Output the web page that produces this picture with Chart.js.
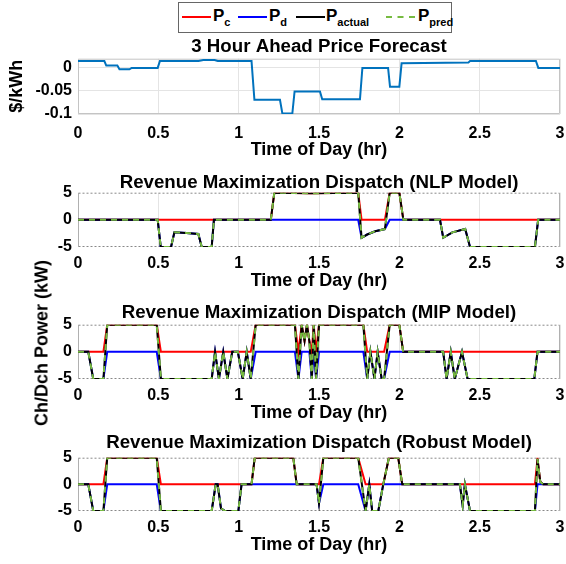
<!DOCTYPE html>
<html>
<head>
<meta charset="utf-8">
<script src="https://cdn.jsdelivr.net/npm/chart.js@4.4.1/dist/chart.umd.min.js"></script>
<style>
    body { margin: 0; background: #fff; font-family: 'Liberation Sans', Arial, sans-serif; }
    #page { position: relative; width: 566px; height: 564px; overflow: hidden; background: #fff; }
    canvas { position: absolute; left: 0; }
    #legend { position: absolute; left: 178px; top: 2px; width: 274px; height: 31px; box-sizing: border-box;
              border: 1px solid #666; background: #fff; }
    #legend .line { position: absolute; top: 13px; width: 29px; height: 0; }
    #legend .txt { position: absolute; top: 3px; font-weight: bold; font-size: 17px; line-height: 20px; white-space: nowrap; }
    #legend .txt sub { font-size: 11px; vertical-align: -5px; line-height: 0; }
    #ylab { position: absolute; left: 42px; top: 343px; transform: translate(-50%, -50%) rotate(-90deg);
            white-space: nowrap; font-weight: bold; font-size: 18px; }
</style>
</head>
<body>
<div id="page">
    <div id="legend">
        <div class="line" style="left:3px;border-top:2px solid #ff0000"></div>
        <div class="txt" style="left:34px">P<sub>c</sub></div>
        <div class="line" style="left:59px;border-top:2px solid #0000ff"></div>
        <div class="txt" style="left:90px">P<sub>d</sub></div>
        <div class="line" style="left:117px;border-top:2px solid #000"></div>
        <div class="txt" style="left:147px">P<sub>actual</sub></div>
        <div class="line" style="left:207px;border-top:2px dashed #77bb41"></div>
        <div class="txt" style="left:239px">P<sub>pred</sub></div>
    </div>
    <canvas id="price" width="566" height="123" style="top:38px"></canvas>
    <canvas id="nlp" width="566" height="118" style="top:174px"></canvas>
    <canvas id="mip" width="566" height="120" style="top:304px"></canvas>
    <canvas id="robust" width="566" height="122" style="top:434px"></canvas>
    <div id="ylab">Ch/Dch Power (kW)</div>
</div>
<script>
// Ticks
const hourTicks = [0, 0.5, 1, 1.5, 2, 2.5, 3];
const priceTicks = [-0.1, -0.05, 0];
const powerTicks = [-5, 0, 5];

// 3 hour ahead price forecast ($/kWh)
const priceTime = [0, 0.164, 0.176, 0.245, 0.258, 0.32, 0.334, 0.496, 0.51, 0.75, 0.78, 0.85, 0.87, 1.08, 1.098, 1.257,
    1.272, 1.334, 1.348, 1.506, 1.52, 1.755, 1.77, 1.93, 1.942, 2.0, 2.014, 2.43, 2.44, 2.85, 2.865, 3];
const priceValue = [0.015, 0.015, 0.005, 0.005, -0.003, -0.003, 0, 0, 0.015, 0.015, 0.017, 0.017, 0.015, 0.015, -0.069, -0.069,
    -0.099, -0.099, -0.051, -0.051, -0.068, -0.068, 0, 0, -0.041, -0.041, 0.01, 0.012, 0.015, 0.015, 0, 0];

// NLP model dispatch (kW)
const nlpTime = [0, 0.496, 0.515, 0.579, 0.6, 0.675, 0.749, 0.77, 0.832, 0.846, 1.2, 1.222, 1.45, 1.744, 1.765,
    1.8, 1.85, 1.91, 1.94, 2.0, 2.025, 2.253, 2.273, 2.33, 2.41, 2.44, 2.844, 2.864, 3];
const nlpCharge = [0, 0, 0, 0, 0, 0, 0, 0, 0, 0, 0, 5, 4.9, 5, 0,
    0, 0, 0, 5, 5, 0, 0, 0, 0, 0, 0, 0, 0, 0];
const nlpDischarge = [0, 0, -5, -5, -2.3, -2.4, -2.6, -5, -5, 0, 0, 0, 0, 0, -3.3,
    -2.7, -2.1, -1.7, 0, 0, 0, 0, -3.3, -2.3, -1.7, -5, -5, 0, 0];
const nlpActual = [0, 0, -5, -5, -2.3, -2.4, -2.6, -5, -5, 0, 0, 5, 4.9, 5, -3.3,
    -2.7, -2.1, -1.7, 5, 5, 0, 0, -3.3, -2.3, -1.7, -5, -5, 0, 0];
const nlpPred = [0, 0, -5, -5, -2.3, -2.4, -2.6, -5, -5, 0, 0, 5, 4.9, 5, -3.3,
    -2.7, -2.1, -1.7, 5, 5, 0, 0, -3.3, -2.3, -1.7, -5, -5, 0, 0];

// MIP model dispatch (kW)
const mipTime = [0, 0.064, 0.095, 0.158, 0.182, 0.49, 0.516, 0.832, 0.853, 0.877, 0.904, 0.93, 0.96, 0.995, 1.025, 1.05,
    1.075, 1.106, 1.35, 1.372, 1.392, 1.41, 1.425, 1.44, 1.455, 1.467, 1.482, 1.5, 1.776, 1.8, 1.82, 1.845,
    1.865, 1.89, 1.905, 1.94, 2.0, 2.024, 2.273, 2.294, 2.32, 2.345, 2.39, 2.425, 2.84, 2.86, 3];
const mipCharge = [0, 0, 0, 0, 5, 5, 0, 0, 0, 0, 0, 0, 0, 0, 0, 0,
    0, 5, 5, 0, 5, 2, 5, 2, 0, 5, 0, 5, 5, 0, 0, 0,
    0, 0, 0, 5, 5, 0, 0, 0, 0, 0, 0, 0, 0, 0, 0];
const mipDischarge = [0, 0, -5, -5, 0, 0, -5, -5, 0, -5, 0, -5, 0, 0, -5, 0,
    -5, 0, 0, -5, 0, 0, 0, 0, -5, 0, -5, 0, 0, -5, 0, -5,
    0, -5, -5, 0, 0, 0, 0, -5, 0, -5, 0, -5, -5, 0, 0];
const mipActual = [0, 0, -5, -5, 5, 5, -5, -5, 0, -5, 0, -5, 0, 0, -5, 0,
    -5, 5, 5, -5, 5, 2, 5, 2, -5, 5, -5, 5, 5, -5, 0, -5,
    0, -5, -5, 5, 5, 0, 0, -5, 0, -5, 0, -5, -5, 0, 0];
const mipPred = [0, 0, -5, -5, 5, 5, -5, -5, 0, -5, 0, -5, 0, 0, -5, 0,
    -5, 5, 5, -5, 5, 2, 5, 2, -5, 5, -5, 5, 5, -5, 0, -5,
    0, -5, -5, 5, 5, 0, 0, -5, 0, -5, 0, -5, -5, 0, 0];

// Robust model dispatch (kW)
const robustTime = [0, 0.064, 0.095, 0.158, 0.182, 0.49, 0.516, 0.832, 0.857, 0.869, 0.89, 0.915, 0.998, 1.018, 1.08,
    1.1, 1.34, 1.361, 1.485, 1.5, 1.527, 1.744, 1.79, 1.813, 1.831, 1.869, 1.9, 1.935, 1.993, 2.018,
    2.377, 2.394, 2.408, 2.44, 2.844, 2.86, 2.877, 2.895, 3];
const robustCharge = [0, 0, 0, 0, 5, 5, 0, 0, 0, 0, 0, 0, 0, 0, 0,
    5, 5, 0, 0, 0, 5, 5, 0, 0, 0, 0, 0, 5, 5, 0,
    0, 0, 0, 0, 0, 4.8, 0.5, 0, 0];
const robustDischarge = [0, 0, -5, -5, 0, 0, -5, -5, 0, 0, -4.5, -5, -5, 0, 0,
    0, 0, 0, 0, -3.6, 0, 0, -5, 0, -5, -5, 0, 0, 0, 0,
    0, -4, 0, -5, -5, 0, 0, 0, 0];
const robustActual = [0, 0, -5, -5, 5, 5, -5, -5, 0, 0, -4.5, -5, -5, 0, 0,
    5, 5, 0, 0, -3.6, 5, 5, -5, 0, -5, -5, 0, 5, 5, 0,
    0, -4, 0, -5, -5, 4.8, 0.5, 0, 0];
const robustPred = [0, 0, -5, -5, 5, 5, -5, -5, 0, 0, -4.5, -5, -5, 0, 0,
    5, 5, 0, 0, -3.6, 5, 5, -5, 0, -5, -5, 0, 5, 5, 0,
    0, -4, 0, -5, -5, 4.8, 0.5, 0, 0];

Chart.defaults.font.family = "'Liberation Sans', Arial, sans-serif";
Chart.defaults.font.weight = 'bold';
Chart.defaults.color = '#000';

// Frame around the plot area (top/bottom may be dotted)
const frame = {
    id: 'frame',
    beforeDatasetsDraw(chart, args, opts) {
        const { ctx, chartArea: a } = chart;
        const l = a.left + 0.5, r = a.right - 0.5, t = a.top + 0.5, b = a.bottom - 0.5;
        ctx.save();
        ctx.lineWidth = 1;
        ctx.strokeStyle = opts.side;
        ctx.beginPath();
        ctx.moveTo(l, t); ctx.lineTo(l, b);
        ctx.moveTo(r, t); ctx.lineTo(r, b);
        ctx.stroke();
        ctx.strokeStyle = opts.edge;
        ctx.setLineDash(opts.dash);
        ctx.beginPath();
        ctx.moveTo(l, t); ctx.lineTo(r, t);
        ctx.moveTo(l, b); ctx.lineTo(r, b);
        ctx.stroke();
        ctx.restore();
    }
};
Chart.register(frame);

const serie = (t, v, color, dash, order) => ({
    data: t.map((x, i) => ({ x, y: v[i] })),
    borderColor: color,
    borderWidth: 2,
    borderDash: dash,
    pointRadius: 0,
    tension: 0,
    fill: false,
    order
});

const setTicks = (list) => (scale) => { scale.ticks = list.map(value => ({ value })); };

// box: { titlePad, tickPad, axisH }
const makeChart = (id, title, box, datasets, yMin, yMax, yTicks, yTitle, frameOpts, yGrid) => new Chart(document.getElementById(id), {
    type: 'line',
    data: { datasets },
    options: {
        responsive: false,
        animation: false,
        devicePixelRatio: 1,
        layout: { padding: { left: 0, right: 6, top: 0, bottom: 0 } },
        plugins: {
            legend: { display: false },
            tooltip: { enabled: false },
            title: {
                display: true,
                fullSize: false,
                text: title,
                font: { size: 18.7, weight: 'bold', lineHeight: 1 },
                padding: { top: 0, bottom: box.titlePad }
            },
            frame: frameOpts
        },
        scales: {
            x: {
                type: 'linear',
                min: 0,
                max: 3,
                afterBuildTicks: setTicks(hourTicks),
                afterFit: (s) => { s.height = box.axisH; s.paddingLeft = 0; s.paddingRight = 0; },
                ticks: { font: { size: 16 }, padding: box.tickPad, maxRotation: 0, autoSkip: false, callback: v => String(v) },
                grid: { color: '#e4e4e4', drawTicks: false },
                border: { display: false },
                title: { display: true, text: 'Time of Day (hr)', font: { size: 18 }, padding: { top: 0, bottom: 0 } }
            },
            y: {
                min: yMin,
                max: yMax,
                afterBuildTicks: setTicks(yTicks),
                afterFit: (s) => { s.width = 78; },
                ticks: { font: { size: 16 }, padding: 6, callback: v => String(v) },
                grid: { display: yGrid, color: '#e4e4e4', drawTicks: false },
                border: { display: false },
                title: { display: !!yTitle, text: yTitle, font: { size: 18 }, padding: { top: 6, bottom: 0 } }
            }
        }
    }
});

const dispatchSets = (t, pc, pd, act, pred) => [
    serie(t, pc, '#ff0000', [], 4),
    serie(t, pd, '#0000ff', [], 3),
    serie(t, act, '#000000', [], 2),
    serie(t, pred, '#77bb41', [6, 5], 1)
];

const solidFrame = { side: '#c4c4c4', edge: '#c4c4c4', dash: [] };
const dottedFrame = { side: '#b0b0b0', edge: '#888', dash: [2, 2] };

makeChart('price', '3 Hour Ahead Price Forecast', { titlePad: 2, tickPad: 10, axisH: 47 },
    [serie(priceTime, priceValue, '#0072bd', [], 1)], -0.1, 0.02, priceTicks, '$/kWh', solidFrame, true);
makeChart('nlp', 'Revenue Maximization Dispatch (NLP Model)', { titlePad: 0, tickPad: 7, axisH: 45 },
    dispatchSets(nlpTime, nlpCharge, nlpDischarge, nlpActual, nlpPred), -5, 5, powerTicks, '', dottedFrame, false);
makeChart('mip', 'Revenue Maximization Dispatch (MIP Model)', { titlePad: 2, tickPad: 7, axisH: 45 },
    dispatchSets(mipTime, mipCharge, mipDischarge, mipActual, mipPred), -5, 5, powerTicks, '', dottedFrame, false);
makeChart('robust', 'Revenue Maximization Dispatch (Robust Model)', { titlePad: 5, tickPad: 7, axisH: 45 },
    dispatchSets(robustTime, robustCharge, robustDischarge, robustActual, robustPred), -5, 5, powerTicks, '', dottedFrame, false);
</script>
</body>
</html>
